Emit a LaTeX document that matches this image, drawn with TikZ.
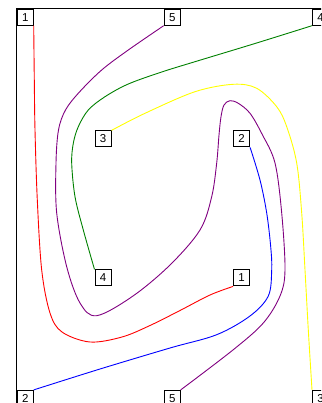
\documentclass[tikz,border=0pt]{standalone}
\usepackage{fontspec}
\setmainfont{Liberation Sans}
\definecolor{cred}{RGB}{255,0,0}
\definecolor{cblue}{RGB}{0,0,255}
\definecolor{cpurple}{RGB}{128,0,128}
\definecolor{cgreen}{RGB}{0,128,0}
\definecolor{cyellow}{RGB}{255,255,0}
\begin{document}
\begin{tikzpicture}[x=1pt,y=-1pt,
  box/.style={draw=black, line width=1pt, fill=white, minimum size=16pt, inner sep=0pt, font=\fontsize{11.5}{11.5}\selectfont},
  curve/.style={line width=0.9pt},
  frame/.style={line width=1.2pt, draw=black}]
\useasboundingbox (0,0) rectangle (321,403);
\clip (0,0) rectangle (321,403);
% corner / edge nodes
\node[box] (tl1) at (25.2,17.2) {1};
\node[box] (t5)  at (172.2,17.2) {5};
\node[box] (tr4) at (320.5,17.2) {4};
\node[box] (bl2) at (25.2,398.4) {2};
\node[box] (b5)  at (172.2,398.4) {5};
\node[box] (br3) at (320.5,398.4) {3};
% inner nodes
\node[box] (i3) at (103,138.9) {3};
\node[box] (i2) at (241.6,138.9) {2};
\node[box] (i4) at (103,277.9) {4};
\node[box] (i1) at (241.6,277.9) {1};
% frame
\draw[frame] (tl1.north west) rectangle (br3.south east);
% red
\draw[cred,curve] plot[smooth,tension=0.55] coordinates {(tl1.south east) (34.3,80) (35,130) (37.3,200) (41.7,270) (50,313) (62,332) (90,342) (122,337) (150,325.5) (180,310.5) (210,295) (i1.south west)};
% blue
\draw[cblue,curve] plot[smooth,tension=0.55] coordinates {(i2.south east) (260,180) (266.7,213) (270.7,246.7) (271.7,270) (268.3,296) (250,316) (216.7,334.7) (170,348) (100,369) (bl2.north east)};
% purple
\draw[cpurple,curve] plot[smooth,tension=0.55] coordinates {(t5.south west) (128.3,50) (101.7,70) (79,92.5) (65.5,110) (58.5,130) (56,163) (56.7,213) (66.7,266.7) (80,303) (96.7,315.7) (133,296) (170,265) (200,230) (211.7,196.7) (216.7,163) (219,135) (221,116.7) (224,105) (230,100.7) (238.3,103.3) (250,113.3) (262,134) (275,163) (281.7,213) (285,270) (280,296) (263.3,323) (233.3,349.7) (b5.north east)};
% green
\draw[cgreen,curve] plot[smooth,tension=0.55] coordinates {(tr4.south west) (255,43.5) (195,61.7) (161.7,72) (128.3,84) (105,96.7) (88.3,110) (78.3,126.7) (73.3,143.3) (71.7,163.3) (75,196.7) (83.3,230) (i4.north west)};
% yellow
\draw[cyellow,curve] plot[smooth,tension=0.55] coordinates {(i3.north east) (145,113.3) (195,91.7) (233.3,84.3) (256.7,88.3) (276.7,106.7) (286.7,126.7) (296.7,163) (301.7,213) (305,270) (308.3,330) (br3.north west)};
\end{tikzpicture}
\end{document}
